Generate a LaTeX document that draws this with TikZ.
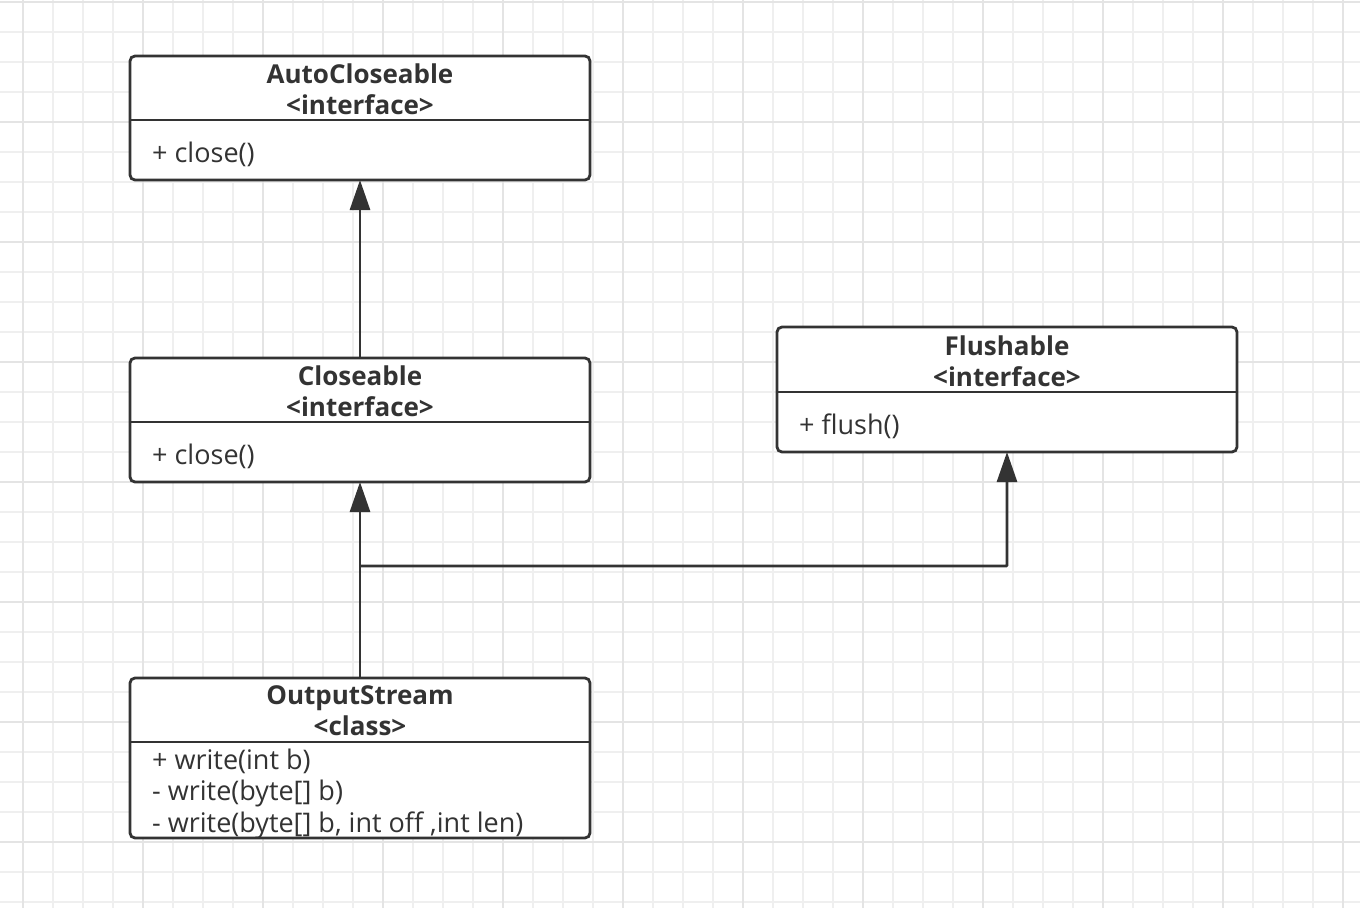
\documentclass[tikz,border=0pt]{standalone}
\usepackage{fontspec}
\setmainfont{Open Sans}
\usepackage{tikz}
\usetikzlibrary{arrows.meta,calc,positioning}

\definecolor{umlgray}{HTML}{333333}
\definecolor{gridminor}{HTML}{EFEFEF}
\definecolor{gridmajor}{HTML}{E4E4E4}

\begin{document}
\begin{tikzpicture}[x=1pt, y=-1pt,
    classbox/.style={draw=umlgray, line width=2.8pt, rounded corners=5pt, fill=white,
                     minimum width=460pt, outer sep=0pt, inner sep=0pt},
    classname/.style={align=center, inner sep=0pt, text=umlgray,
                      font=\fontsize{26}{31}\selectfont\bfseries},
    members/.style={align=left, inner sep=0pt, anchor=west, text=umlgray,
                    font=\fontsize{27}{31.5}\selectfont},
    divider/.style={draw=umlgray, line width=2.8pt},
    inherit/.style={draw=umlgray, line width=2.8pt, -{Triangle[length=30pt,width=20pt]}}]
    \useasboundingbox (0,0) rectangle (1360,908);
    \fill[white] (0,0) rectangle (1360,908);

    % background grid
    \foreach \i in {0,...,44}
        \draw[gridminor, line width=1.2pt] (23+30*\i,0) -- (23+30*\i,908);
    \foreach \i in {0,...,30}
        \draw[gridminor, line width=1.2pt] (0,2+30*\i) -- (1360,2+30*\i);
    \foreach \i in {0,...,11}
        \draw[gridmajor, line width=1.4pt] (23+120*\i,0) -- (23+120*\i,908);
    \foreach \i in {0,...,7}
        \draw[gridmajor, line width=1.4pt] (0,2+120*\i) -- (1360,2+120*\i);

    % classes
    \node[classbox, minimum height=124pt] (auto)  at (360,118)   {};
    \node[classname] (autoname) at ($(auto.north)+(0,33)$) {AutoCloseable\\<interface>};
    \draw[divider] ($(auto.north west)+(0,64)$) -- ($(auto.north east)+(0,64)$);
    \node[members]   (autoops)  at ($(auto.south west)+(22,-26)$) {+ close()};

    \node[classbox, minimum height=124pt] (clos)  at (360,420)   {};
    \node[classname] (closname) at ($(clos.north)+(0,33)$) {Closeable\\<interface>};
    \draw[divider] ($(clos.north west)+(0,64)$) -- ($(clos.north east)+(0,64)$);
    \node[members]   (closops)  at ($(clos.south west)+(22,-26)$) {+ close()};

    \node[classbox, minimum height=125pt] (flush) at (1007,389.5) {};
    \node[classname] (flushname) at ($(flush.north)+(0,34)$) {Flushable\\<interface>};
    \draw[divider] ($(flush.north west)+(0,65)$) -- ($(flush.north east)+(0,65)$);
    \node[members]   (flushops) at ($(flush.south west)+(22,-26)$) {+ flush()};

    \node[classbox, minimum height=160pt] (out)   at (360,758)   {};
    \node[classname] (outname)  at ($(out.north)+(0,33)$) {OutputStream\\<class>};
    \draw[divider] ($(out.north west)+(0,64)$) -- ($(out.north east)+(0,64)$);
    \node[members]   (outops)   at ($(out.south west)+(22,-44.5)$)
        {+ write(int b)\\- write(byte[] b)\\- write(byte[] b, int off ,int len)};

    % generalisations
    \coordinate (split) at ($(out.north)!0.571!(clos.south)$);
    \path[inherit] (clos.north) -- (auto.south);
    \path[inherit] (out.north)  -- (clos.south);
    \path[inherit, rounded corners=1pt] (split) -| (flush.south);
\end{tikzpicture}
\end{document}
